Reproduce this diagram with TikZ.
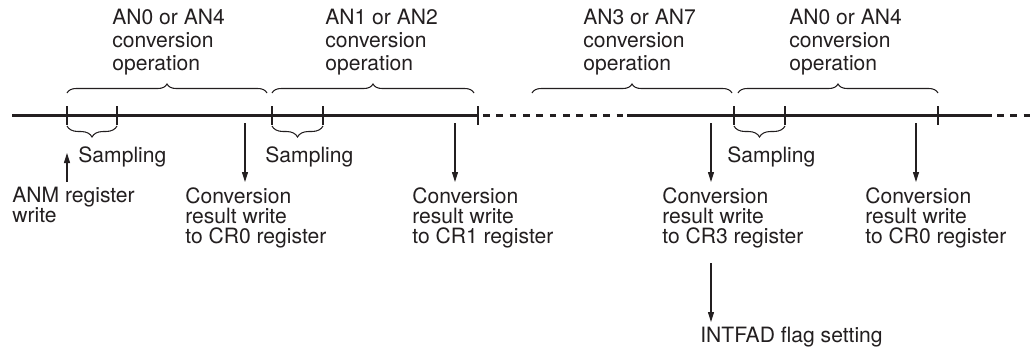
\documentclass[tikz,border=0pt]{standalone}
\usepackage{fontspec}
\setmainfont{TeX Gyre Heros}
\usepackage{xcolor}
\usetikzlibrary{arrows.meta, decorations.pathreplacing, calc}
\definecolor{tink}{HTML}{231F20}
\tikzset{
  lbl/.style={anchor=north west, align=left, inner xsep=0pt, inner ysep=0.1cm,
              font=\fontsize{12}{11.4}\selectfont, text=tink},
  oplbl/.style={lbl, font=\fontsize{12}{13.1}\selectfont},
  arr/.style={-{Triangle[length=2mm, width=1.2mm]}, line width=0.6pt, tink},
  tline/.style={line width=1.7pt, tink},
  tdash/.style={tline, dash pattern=on 3.8pt off 3.8pt},
  tmark/.style={line width=0.6pt, tink},
  brc/.style={decorate, decoration={brace, amplitude=#1}, line width=0.6pt, tink},
}

\begin{document}
\begin{tikzpicture}[x=0.02cm, y=-0.02cm,
    samp/.style={lbl, inner ysep=0.1cm}]
  \useasboundingbox (0,0) rectangle (1036,353);

  % time line
  \draw[tline] (12,115) -- (478,115);
  \draw[tdash] (483,115) -- (627,115);
  \draw[tline] (627,115) -- (992,115);
  \draw[tdash] (997,115) -- (1036,115);
  \foreach \x in {67,117,272,323,478,734,785,938}
    \draw[tmark] (\x,106) -- (\x,125);

  % conversion operations
  \node[oplbl] (op1) at (112,4) {AN0 or AN4\\conversion\\operation};
  \node[oplbl] (op2) at (325,4) {AN1 or AN2\\conversion\\operation};
  \node[oplbl] (op3) at (583,4) {AN3 or AN7\\conversion\\operation};
  \node[oplbl] (op4) at (789,4) {AN0 or AN4\\conversion\\operation};
  \draw[brc=0.18cm] (67,93) -- (267,93);
  \draw[brc=0.18cm] (272,93) -- (474,93);
  \draw[brc=0.18cm] (532,93) -- (732,93);
  \draw[brc=0.18cm] (738,93) -- (938,93);

  % sampling
  \draw[brc=0.22cm] (117,126) -- (67,126);
  \draw[brc=0.22cm] (323,126) -- (272,126);
  \draw[brc=0.22cm] (785,126) -- (734,126);
  \node[samp] (smp1) at (78,141) {Sampling};
  \node[samp] (smp2) at (265,141) {Sampling};
  \node[samp] (smp3) at (727,141) {Sampling};

  % events
  \node[lbl] (anm) at (12,182) {ANM register\\write};
  \node[lbl] (res0) at (185,182) {Conversion\\result write\\to CR0 register};
  \node[lbl] (res1) at (412,182) {Conversion\\result write\\to CR1 register};
  \node[lbl] (res3) at (662,182) {Conversion\\result write\\to CR3 register};
  \node[lbl] (res0b) at (865,182) {Conversion\\result write\\to CR0 register};
  \node[lbl] (intf) at (700,322) {INTFAD flag setting};

  \coordinate (w0) at (67,153);
  \coordinate (c0) at (245,123);
  \coordinate (c1) at (455,123);
  \coordinate (c3) at (711,123);
  \coordinate (c0b) at (916,123);
  \draw[arr] (anm.north -| w0) -- (w0);
  \draw[arr] (c0) -- (res0.north -| c0);
  \draw[arr] (c1) -- (res1.north -| c1);
  \draw[arr] (c3) -- (res3.north -| c3);
  \draw[arr] (c0b) -- (res0b.north -| c0b);
  \draw[arr, shorten <=0.2cm] (res3.south -| c3) -- (intf.north -| c3);
\end{tikzpicture}
\end{document}
